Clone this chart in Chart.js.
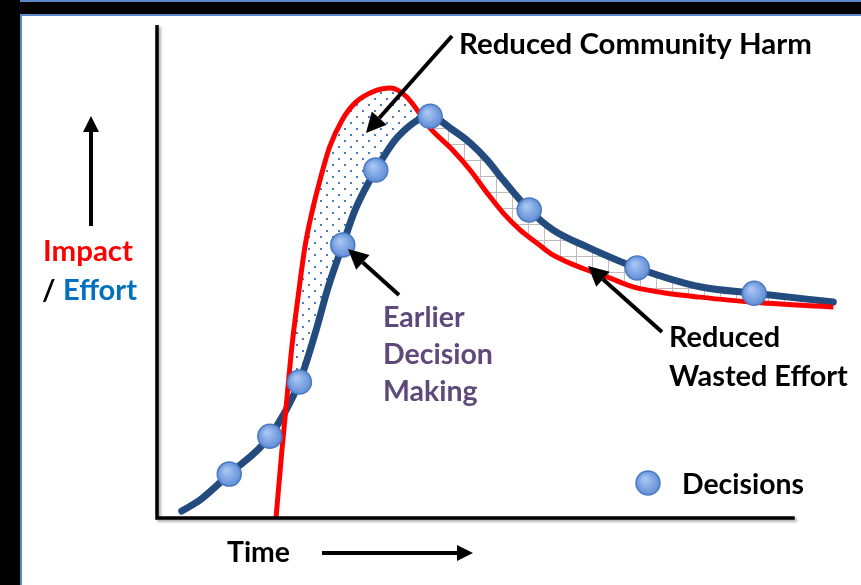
<!DOCTYPE html>
<html>
<head>
<meta charset="utf-8">
<script src="https://cdn.jsdelivr.net/npm/chart.js@4"></script>
<style>
  html, body { margin: 0; padding: 0; background: #000; }
  #wrap { width: 861px; height: 585px; }
</style>
</head>
<body>
<div id="wrap"><canvas id="chart" width="861" height="585"></canvas></div>
<script>
// Values: time runs 0-100 along the axis, level 0-100 up it
const effortTime  = [3.6, 6.3, 10.5, 16.4, 20.7, 23.0, 24.9, 27.0, 28.8, 31.8, 35.0, 39.7, 43.0, 45.5, 48.0, 50.3, 54.1, 57.6, 62.5, 69.8, 78.9, 86.8, 98.3];
const effortLevel = [1.4, 3.7, 8.9, 16.6, 27.6, 37.5, 46.9, 55.4, 62.5, 70.6, 77.3, 81.5, 78.7, 76.1, 72.6, 68.6, 62.5, 58.4, 55.0, 50.7, 46.9, 45.6, 43.8];

const impactTime  = [17.3, 18.2, 18.9, 19.6, 20.5, 21.5, 22.5, 23.7, 25.1, 26.9, 28.8, 31.3, 33.9, 36.3, 39.7, 43.0, 45.5, 48.0, 50.3, 52.8, 55.2, 57.6, 60.0, 62.5, 65.4, 69.2, 74.1, 78.9, 86.2, 98.3];
const impactLevel = [0, 14.4, 24.5, 34.7, 44.8, 55.0, 61.9, 68.6, 75.3, 80.7, 84.2, 86.4, 87.2, 85.4, 79.1, 74.6, 70.6, 65.9, 61.9, 58.4, 55.8, 53.3, 51.7, 50.3, 48.9, 46.9, 45.6, 44.8, 43.8, 42.8];

const decisionTime  = [10.5, 16.4, 20.7, 27.0, 31.8, 39.7, 54.1, 69.8, 86.8];
const decisionLevel = [8.9, 16.6, 27.6, 55.4, 70.6, 81.5, 62.5, 50.7, 45.6];

const xAxisEnd = 92.7; // the drawn time axis stops short of the curves

const toPoints = (xs, ys) => xs.map((x, i) => ({ x: x, y: ys[i] }));

// hatched area only after the effort peak
const peakIdx = effortLevel.indexOf(Math.max(...effortLevel));

const canvas = document.getElementById('chart');
const mainCtx = canvas.getContext('2d');

// Dotted fill for the "reduced harm" area
function dotPattern() {
    const c = document.createElement('canvas');
    c.width = 12; c.height = 12;
    const g = c.getContext('2d');
    g.fillStyle = '#4a7cc0';
    g.fillRect(2, 2, 2, 2);
    g.fillRect(8, 8, 2, 2);
    return mainCtx.createPattern(c, 'repeat');
}

// Grid hatch for the "wasted effort" area
function gridPattern() {
    const c = document.createElement('canvas');
    c.width = 16; c.height = 16;
    const g = c.getContext('2d');
    g.fillStyle = '#bdbdbd';
    g.fillRect(0, 0, 16, 1);
    g.fillRect(0, 0, 1, 16);
    return mainCtx.createPattern(c, 'repeat');
}

const FONT = 'Lato, "Open Sans", "Liberation Sans", sans-serif';

function fitSize(ctx, text, width) {
    ctx.font = `bold 100px ${FONT}`;
    return 100 * width / ctx.measureText(text).width;
}

function label(ctx, text, x, y, size, color) {
    ctx.font = `bold ${size}px ${FONT}`;
    ctx.fillStyle = color;
    ctx.textAlign = 'left';
    ctx.textBaseline = 'middle';
    ctx.fillText(text, x, y);
}

function arrow(ctx, x1, y1, x2, y2, w, head) {
    const a = Math.atan2(y2 - y1, x2 - x1);
    const bx = x2 - head * Math.cos(a), by = y2 - head * Math.sin(a);
    const hw = head * 0.5;
    ctx.strokeStyle = '#000';
    ctx.fillStyle = '#000';
    ctx.lineWidth = w;
    ctx.lineCap = 'butt';
    ctx.beginPath();
    ctx.moveTo(x1, y1);
    ctx.lineTo(bx, by);
    ctx.stroke();
    ctx.beginPath();
    ctx.moveTo(x2, y2);
    ctx.lineTo(bx + hw * Math.sin(a), by - hw * Math.cos(a));
    ctx.lineTo(bx - hw * Math.sin(a), by + hw * Math.cos(a));
    ctx.closePath();
    ctx.fill();
}

function decisionFill(ctx, x, y) {
    if (!isFinite(x) || !isFinite(y)) return '#7ea6e6';
    const g = ctx.createRadialGradient(x - 3, y - 4, 1, x, y, 13);
    g.addColorStop(0, '#a9c6f2');
    g.addColorStop(1, '#5b8ad6');
    return g;
}

const sketchPlugin = {
    id: 'sketch',
    beforeDraw(chart) {
        const ctx = chart.ctx;
        ctx.save();
        ctx.fillStyle = '#000';
        ctx.fillRect(0, 0, 861, 585);
        ctx.fillStyle = '#fff';
        ctx.fillRect(20, 14, 841, 571);
        ctx.strokeStyle = '#5a8ac6';
        ctx.lineWidth = 2;
        ctx.beginPath();
        ctx.moveTo(21, 585); ctx.lineTo(21, 15); ctx.lineTo(861, 15);
        ctx.stroke();
        ctx.beginPath();
        ctx.moveTo(20, 1); ctx.lineTo(861, 1);
        ctx.stroke();
        ctx.restore();
    },
    afterDatasetsDraw(chart) {
        const ctx = chart.ctx;
        const xs = chart.scales.x, ys = chart.scales.y;
        const x0 = xs.getPixelForValue(0), y0 = ys.getPixelForValue(0);
        ctx.save();
        ctx.shadowColor = 'rgba(0,0,0,0.35)';
        ctx.shadowBlur = 3;
        ctx.shadowOffsetX = 2;
        ctx.shadowOffsetY = 2;
        ctx.strokeStyle = '#000';
        ctx.lineWidth = 3.5;
        ctx.lineCap = 'butt';
        ctx.beginPath();
        ctx.moveTo(x0, ys.getPixelForValue(100));
        ctx.lineTo(x0, y0);
        ctx.lineTo(xs.getPixelForValue(xAxisEnd), y0);
        ctx.stroke();
        ctx.restore();
    },
    afterDraw(chart) {
        const ctx = chart.ctx;
        ctx.save();

        // axis captions
        arrow(ctx, 91, 226, 91, 116, 4, 16);
        label(ctx, 'Impact', 43, 252, fitSize(ctx, 'Impact', 90), '#ff0000');
        const effSize = fitSize(ctx, 'Effort', 74);
        label(ctx, '/', 42, 291, effSize, '#000');
        label(ctx, 'Effort', 63, 291, effSize, '#0070c0');

        const timeSize = fitSize(ctx, 'Time', 63);
        label(ctx, 'Time', 227, 553, timeSize, '#000');
        arrow(ctx, 322, 553, 473, 553, 4, 16);

        // call-outs
        label(ctx, 'Reduced Community Harm', 459, 45, fitSize(ctx, 'Reduced Community Harm', 353), '#000');
        arrow(ctx, 452, 36, 366, 133, 4, 20);

        const purple = '#5f497a';
        const earlySize = fitSize(ctx, 'Decision', 110);
        label(ctx, 'Earlier', 383, 318, earlySize, purple);
        label(ctx, 'Decision', 383, 355, earlySize, purple);
        label(ctx, 'Making', 383, 392, earlySize, purple);
        arrow(ctx, 399, 295, 348, 249, 4, 20);

        const wasteSize = fitSize(ctx, 'Wasted Effort', 179);
        label(ctx, 'Reduced', 669, 338, wasteSize, '#000');
        label(ctx, 'Wasted Effort', 669, 377, wasteSize, '#000');
        arrow(ctx, 662, 332, 588, 266, 4, 20);

        // legend entry for the decision markers
        ctx.beginPath();
        ctx.arc(648, 483, 12, 0, Math.PI * 2);
        ctx.fillStyle = decisionFill(ctx, 648, 483);
        ctx.fill();
        ctx.lineWidth = 1.5;
        ctx.strokeStyle = '#4a7ac0';
        ctx.stroke();
        label(ctx, 'Decisions', 682, 485, fitSize(ctx, 'Decisions', 122), '#000');

        ctx.restore();
    }
};

new Chart(canvas, {
    type: 'line',
    data: {
        datasets: [
            {
                label: 'Decisions',
                data: toPoints(decisionTime, decisionLevel),
                showLine: false,
                pointRadius: 12,
                pointBorderWidth: 1.5,
                pointBorderColor: '#4a7ac0',
                pointBackgroundColor: (c) => {
                    const p = c.raw;
                    if (!p) return '#7ea6e6';
                    return decisionFill(c.chart.ctx, c.chart.scales.x.getPixelForValue(p.x), c.chart.scales.y.getPixelForValue(p.y));
                },
                clip: false
            },
            {
                label: 'Impact',
                data: toPoints(impactTime, impactLevel),
                borderColor: '#ff0000',
                borderWidth: 5,
                pointRadius: 0,
                cubicInterpolationMode: 'monotone',
                fill: { target: 2, above: dotPattern(), below: 'rgba(0,0,0,0)' },
                clip: false
            },
            {
                label: 'Effort',
                data: toPoints(effortTime, effortLevel),
                borderColor: '#234b7e',
                borderWidth: 7,
                borderCapStyle: 'round',
                pointRadius: 0,
                cubicInterpolationMode: 'monotone',
                fill: false,
                clip: false
            },
            {
                label: 'Wasted',
                data: toPoints(effortTime.slice(peakIdx), effortLevel.slice(peakIdx)),
                borderColor: 'rgba(0,0,0,0)',
                borderWidth: 0,
                pointRadius: 0,
                cubicInterpolationMode: 'monotone',
                fill: { target: 1, above: gridPattern(), below: 'rgba(0,0,0,0)' },
                clip: false
            }
        ]
    },
    options: {
        responsive: false,
        animation: false,
        events: [],
        layout: { padding: { left: 157, top: 25, right: 16, bottom: 67 } },
        scales: {
            x: { type: 'linear', min: 0, max: 100, display: false },
            y: { type: 'linear', min: 0, max: 100, display: false }
        },
        plugins: {
            legend: { display: false },
            tooltip: { enabled: false },
            filler: { drawTime: 'beforeDatasetsDraw' }
        }
    },
    plugins: [sketchPlugin]
});
</script>
</body>
</html>
